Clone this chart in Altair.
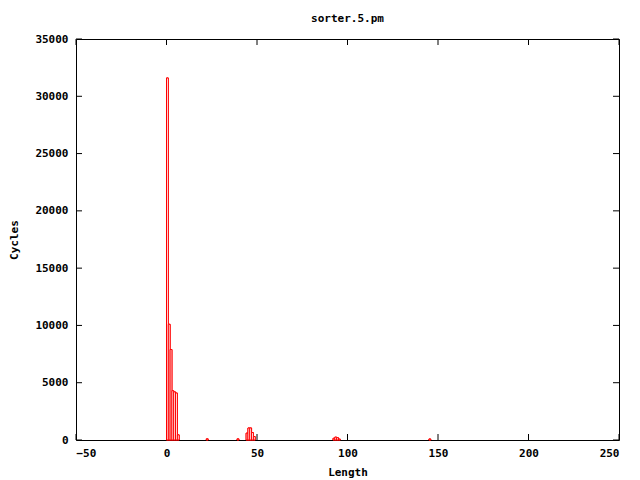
import altair as alt
import pandas as pd

# Histogram bins (Length) and Cycles
lengths = [0, 1, 2, 3, 4, 5, 6, 22, 39, 44, 45, 46, 47, 48, 92, 93, 94, 95, 145]
cycles = [31600, 10100, 7900, 4300, 4200, 4100, 450, 100, 100,
          600, 1050, 1050, 650, 300, 150, 250, 200, 80, 90]

x_ticks = [-50, 0, 50, 100, 150, 200, 250]
y_ticks = [0, 5000, 10000, 15000, 20000, 25000, 30000, 35000]

W, H = 543, 401
FONT = "DejaVu Sans Mono"

df = pd.DataFrame({"len": lengths, "cyc": cycles})
df["x0"] = df["len"]
df["x1"] = df["len"] + 1

xs = alt.Scale(domain=[-50, 250], nice=False, zero=False)
ys = alt.Scale(domain=[0, 35000], nice=False)

bars = alt.Chart(df).mark_bar(fill="white", stroke="#ff0000", strokeWidth=1).encode(
    x=alt.X("x0:Q", scale=xs,
            axis=alt.Axis(values=x_ticks, format="d", ticks=False, domain=False, grid=False,
                          labelPadding=7, labelFont=FONT, labelFontWeight="bold",
                          labelFontSize=11, labelColor="black",
                          title="Length", titleFont=FONT, titleFontWeight="bold",
                          titleFontSize=11, titleColor="black",
                          titleY=32, titleBaseline="middle")),
    x2="x1:Q",
    y=alt.Y("cyc:Q", scale=ys,
            axis=alt.Axis(values=y_ticks, format="d", ticks=False, domain=False, grid=False,
                          labelPadding=8, labelFont=FONT, labelFontWeight="bold",
                          labelFontSize=11, labelColor="black",
                          title="Cycles", titleFont=FONT, titleFontWeight="bold",
                          titleFontSize=11, titleColor="black",
                          titleX=-62, titleY=H / 2, titleAngle=270,
                          titleBaseline="middle", titleAlign="center")),
    y2=alt.datum(0),
)

xt = pd.DataFrame({"t": x_ticks})
yt = pd.DataFrame({"t": y_ticks})

xb = alt.Chart(xt).mark_rule(color="black").encode(
    x=alt.X("t:Q", scale=xs), y=alt.value(H), y2=alt.value(H - 6))
xtop = alt.Chart(xt).mark_rule(color="black").encode(
    x=alt.X("t:Q", scale=xs), y=alt.value(0), y2=alt.value(6))
yl = alt.Chart(yt).mark_rule(color="black").encode(
    y=alt.Y("t:Q", scale=ys), x=alt.value(0), x2=alt.value(6))
yr = alt.Chart(yt).mark_rule(color="black").encode(
    y=alt.Y("t:Q", scale=ys), x=alt.value(W), x2=alt.value(W - 6))

chart = alt.layer(bars, xb, xtop, yl, yr, bars.encode()).properties(
    width=W, height=H,
    title=alt.TitleParams("sorter.5.pm", font=FONT, fontWeight="bold", fontSize=11,
                          color="black", anchor="middle", offset=9),
    autosize=alt.AutoSizeParams(type="none"),
    padding={"left": 68, "top": 31, "right": 13, "bottom": 40},
).configure(background="white").configure_view(stroke="black", strokeWidth=1)

chart.save("out.html", embed_options={"renderer": "svg", "actions": False})
